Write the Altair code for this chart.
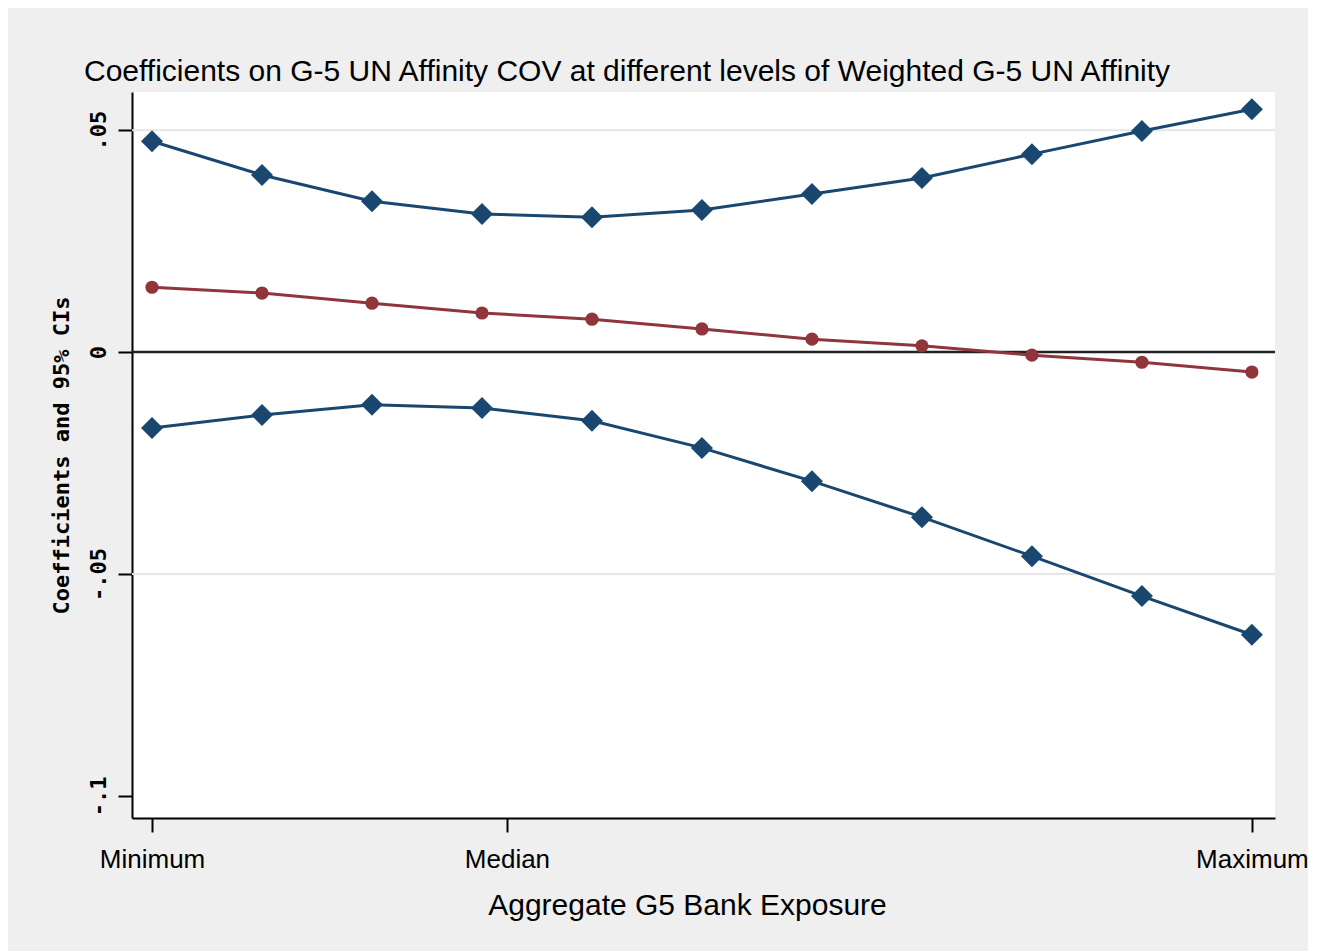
import altair as alt
import pandas as pd

# ---- data ----
x_pos = [0, 1, 2, 3, 4, 5, 6, 7, 8, 9, 10]
upper_ci = [0.0475, 0.0399, 0.0340, 0.0311, 0.0304, 0.0320, 0.0356, 0.0392, 0.0446, 0.0498, 0.0547]
coef = [0.0146, 0.0133, 0.0110, 0.0088, 0.0074, 0.0052, 0.0029, 0.0014, -0.0007, -0.0023, -0.0045]
lower_ci = [-0.0171, -0.0142, -0.0119, -0.0126, -0.0155, -0.0216, -0.0291, -0.0372, -0.0460, -0.0550, -0.0637]

series_names = ["upper", "coef", "lower"]
series_colors = ["#1a476f", "#90353b", "#1a476f"]

grid_values = [0.05, -0.05]
zero_value = [0.0]
y_ticks = [-0.1, -0.05, 0.0, 0.05]
y_tick_labels = ["-.1", "-.05", "0", ".05"]
x_ticks = [0, 3.227, 10]
x_tick_labels = ["Minimum", "Median", "Maximum"]

rows = []
for name, vals in zip(series_names, [upper_ci, coef, lower_ci]):
    for xv, yv in zip(x_pos, vals):
        rows.append({"series": name, "x": xv, "y": yv})
df = pd.DataFrame(rows)
ci_df = df[df["series"] != "coef"]
coef_df = df[df["series"] == "coef"]
grid_df = pd.DataFrame({"y": grid_values})
zero_df = pd.DataFrame({"y": zero_value})


def build_expr(values, labels):
    expr = "''"
    for v, l in zip(values[::-1], labels[::-1]):
        expr = f"abs(datum.value - ({v})) < 1e-9 ? '{l}' : " + expr
    return expr


x_enc = alt.X(
    "x:Q",
    scale=alt.Scale(domain=[-0.182, 10.21], nice=False, zero=False),
    axis=alt.Axis(
        values=x_ticks,
        labelExpr=build_expr(x_ticks, x_tick_labels),
        title="Aggregate G5 Bank Exposure",
        grid=False,
        domainColor="black",
        domainWidth=2,
        tickColor="black",
        tickWidth=2,
        tickSize=14,
        labelFont="Liberation Sans",
        labelFontSize=26,
        labelColor="black",
        labelPadding=14,
        labelFlush=False,
        labelOverlap=False,
        titleFont="Liberation Sans",
        titleFontSize=30,
        titleFontWeight="normal",
        titleColor="black",
        titleX=555,
        titleY=96,
        titleAlign="center",
        titleBaseline="alphabetic",
    ),
)

y_enc = alt.Y(
    "y:Q",
    scale=alt.Scale(domain=[-0.105, 0.0586], nice=False, zero=False),
    axis=alt.Axis(
        values=y_ticks,
        labelExpr=build_expr(y_ticks, y_tick_labels),
        title="Coefficients and 95% CIs",
        grid=False,
        domainColor="black",
        domainWidth=2,
        tickColor="black",
        tickWidth=2,
        tickSize=14,
        labelFont="DejaVu Sans Mono",
        labelFontSize=22,
        labelFontWeight="bold",
        labelColor="black",
        labelAngle=270,
        labelAlign="center",
        labelBaseline="bottom",
        labelPadding=8,
        labelFlush=False,
        labelOverlap=False,
        titleFont="DejaVu Sans Mono",
        titleFontSize=22,
        titleFontWeight="bold",
        titleColor="black",
        titlePadding=14,
    ),
)

color_scale = alt.Scale(domain=series_names, range=series_colors)
color_enc = alt.Color("series:N", scale=color_scale, legend=None)

grid = alt.Chart(grid_df).mark_rule(color="#e6e6e6", strokeWidth=2).encode(y=y_enc)
zero = alt.Chart(zero_df).mark_rule(color="#222222", strokeWidth=2.5).encode(y=y_enc)

lines = alt.Chart(df).mark_line(strokeWidth=3).encode(
    x=x_enc, y=y_enc, color=color_enc, detail="series:N"
)

diamonds = alt.Chart(ci_df).mark_point(
    filled=True, opacity=1, shape="diamond", size=484
).encode(x=x_enc, y=y_enc, color=color_enc)

circles = alt.Chart(coef_df).mark_point(
    filled=True, opacity=1, shape="circle", size=175
).encode(x=x_enc, y=y_enc, color=color_enc)

chart = (
    alt.layer(grid, zero, lines, diamonds, circles)
    .properties(
        width=1143,
        height=726,
        autosize=alt.AutoSizeParams(type="none"),
        padding={"left": 124, "top": 84, "right": 33, "bottom": 133},
        background="#efefef",
        title=alt.TitleParams(
            "Coefficients on G-5 UN Affinity COV at different levels of Weighted G-5 UN Affinity",
            anchor="start",
            frame="group",
            dx=-48,
            dy=29,
            offset=10,
            baseline="alphabetic",
            font="Liberation Sans",
            fontSize=30,
            fontWeight="normal",
            color="black",
        ),
    )
    .configure_view(fill="white", stroke=None)
)

chart.save("out.html", embed_options={"renderer": "svg", "actions": False})
